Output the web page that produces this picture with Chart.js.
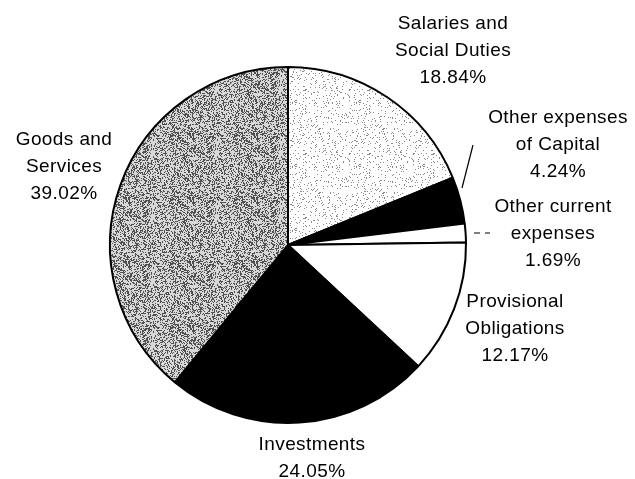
<!DOCTYPE html>
<html>
<head>
<meta charset="utf-8">
<script src="https://cdn.jsdelivr.net/npm/chart.js@4/dist/chart.umd.min.js"></script>
<style>
  html, body { margin: 0; padding: 0; background: #fff; }
  #wrap { width: 635px; height: 479px; }
</style>
</head>
<body>
<div id="wrap"><canvas id="pieChart"></canvas></div>
<script>
// Categories, clockwise from 12 o'clock
const categories = [
    ['Salaries and', 'Social Duties'],
    ['Other expenses', 'of Capital'],
    ['Other current', 'expenses'],
    ['Provisional', 'Obligations'],
    ['Investments'],
    ['Goods and', 'Services']
];
const shares = [18.84, 4.24, 1.69, 12.17, 24.05, 39.02];
const shareLabels = ['18.84%', '4.24%', '1.69%', '12.17%', '24.05%', '39.02%'];

// Label placement relative to pie centre (px): dx, dy of the first line
const labelOffsets = [
    [165, -221],
    [270, -127],
    [265, -38],
    [227, 57],
    [24, 200],
    [-224, -105]
];

// Stipple texture so the grey slices look like the scanned print
function makeStipple(base, dark, density) {
    const c = document.createElement('canvas');
    c.width = 64; c.height = 64;
    const g = c.getContext('2d');
    g.fillStyle = base;
    g.fillRect(0, 0, 64, 64);
    g.fillStyle = dark;
    for (let y = 0; y < 64; y++) {
        for (let x = 0; x < 64; x++) {
            const h = Math.abs(Math.sin(x * 12.9898 + y * 78.233) * 43758.5453) % 1;
            if (h < density) g.fillRect(x, y, 1, 1);
        }
    }
    return g.createPattern(c, 'repeat');
}

const lightStipple = makeStipple('#ffffff', '#8a8a8a', 0.08);
const darkStipple = makeStipple('#d8d8d8', '#505050', 0.36);

const sliceColors = [lightStipple, '#000000', '#ffffff', '#ffffff', '#000000', darkStipple];

// Draws the outside text labels and the two small leader lines
const labelPlugin = {
    id: 'pieLabels',
    afterDraw(chart) {
        const arc = chart.getDatasetMeta(0).data[0];
        const cx = arc.x, cy = arc.y;
        const ctx = chart.ctx;
        ctx.save();
        ctx.fillStyle = '#000';
        ctx.font = '19px "Liberation Sans", Arial, sans-serif';
        ctx.letterSpacing = '0.4px';
        ctx.textAlign = 'center';
        ctx.textBaseline = 'middle';
        const lineH = 27;
        categories.forEach((lines, i) => {
            const [dx, dy] = labelOffsets[i];
            const all = lines.concat([shareLabels[i]]);
            all.forEach((t, k) => ctx.fillText(t, cx + dx, cy + dy + k * lineH));
        });

        ctx.strokeStyle = '#000';
        ctx.lineWidth = 1.2;
        ctx.beginPath();
        ctx.moveTo(cx + 174, cy - 57);
        ctx.lineTo(cx + 185, cy - 100);
        ctx.stroke();

        ctx.setLineDash([6, 5]);
        ctx.beginPath();
        ctx.moveTo(cx + 186, cy - 12);
        ctx.lineTo(cx + 202, cy - 12);
        ctx.stroke();
        ctx.restore();
    }
};

new Chart(document.getElementById('pieChart'), {
    type: 'pie',
    data: {
        labels: categories.map((l) => l.join(' ')),
        datasets: [{
            data: shares,
            backgroundColor: sliceColors,
            borderColor: '#000',
            borderWidth: 2
        }]
    },
    options: {
        responsive: true,
        maintainAspectRatio: false,
        animation: false,
        layout: { padding: { top: 66, bottom: 55, left: 100, right: 159 } },
        plugins: {
            legend: { display: false },
            tooltip: { enabled: false }
        }
    },
    plugins: [labelPlugin]
});
</script>
</body>
</html>
